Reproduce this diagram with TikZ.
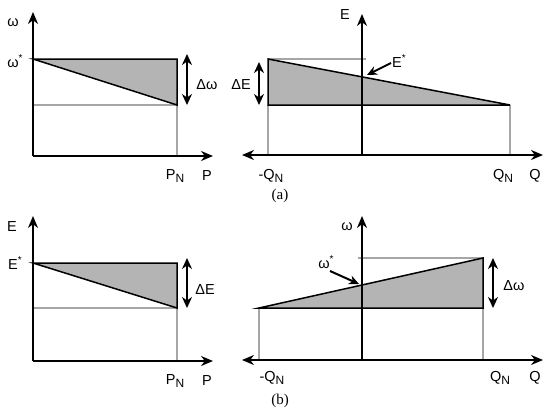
\documentclass[tikz,border=0pt]{standalone}
\usepackage{fontspec}
\setmainfont{Liberation Sans}
\newfontfamily\capfont{Liberation Serif}
\usetikzlibrary{arrows.meta}
\newcommand{\lowsub}[1]{\raisebox{-0.45ex}{\fontsize{12}{12}\selectfont #1}}
\newcommand{\stars}{\raisebox{0.85ex}{\fontsize{10}{10}\selectfont *}}
\tikzset{
  axis/.style={line width=2.2pt,-{Stealth[length=12pt,width=10pt]}},
  axisboth/.style={line width=2.2pt,{Stealth[length=12pt,width=10pt]}-{Stealth[length=12pt,width=10pt]}},
  delta/.style={line width=2pt,{Stealth[length=11pt,width=10pt]}-{Stealth[length=11pt,width=10pt]}},
  pointer/.style={line width=2pt,-{Stealth[length=10pt,width=9pt]}},
  edge/.style={line width=1.5pt,black},
  guide/.style={line width=1.7pt,guidegray},
  lab/.style={font=\fontsize{14.5}{15}\selectfont,inner sep=0pt},
  captionlab/.style={font=\capfont\fontsize{15}{16}\selectfont,inner sep=0pt}
}
\definecolor{shadegray}{HTML}{B4B4B4}
\definecolor{guidegray}{HTML}{A6A6A6}
\begin{document}
\begin{tikzpicture}[x=1pt,y=-1pt]
\useasboundingbox (0,0) rectangle (550,415);
% ---------- top left ----------
\coordinate (o1) at (33,156);
\coordinate (y1) at (33,12);
\coordinate (x1) at (213,156);
\coordinate (a1) at (33,59);
\coordinate (b1) at (177,59);
\coordinate (c1) at (177,105);
\coordinate (d1) at (33,105);
\coordinate (e1) at (177,156);
\fill[shadegray] (a1) -- (b1) -- (c1) -- cycle;
\draw[guide] (d1) -- (c1) -- (e1);
\draw[edge] (a1) -- (b1) -- (c1) -- cycle;
\draw[axis] (o1) -- (y1);
\draw[axis] (o1) -- (x1);
\coordinate (dt1) at (187,54);
\coordinate (db1) at (187,105);
\draw[delta] (dt1) -- (db1);
\node[lab] (lw1) at (13,23) {ω};
\node[lab] (lws1) at (15,61) {ω\stars};
\node[lab] (ldw1) at (207,85) {Δω};
\node[lab] (lpn1) at (175,176) {P\lowsub{N}};
\node[lab] (lp1) at (207,176) {P};
% ---------- top right ----------
\coordinate (o2) at (362,155);
\coordinate (y2) at (362,14);
\coordinate (xl2) at (242,155);
\coordinate (xr2) at (543,155);
\coordinate (a2) at (268,59);
\coordinate (b2) at (268,105);
\coordinate (c2) at (510,105);
\coordinate (g2) at (366,59);
\coordinate (f2) at (268,155);
\coordinate (h2) at (510,155);
\fill[shadegray] (a2) -- (b2) -- (c2) -- cycle;
\draw[guide] (a2) -- (g2);
\draw[guide] (b2) -- (f2);
\draw[guide] (c2) -- (h2);
\draw[edge] (a2) -- (b2) -- (c2) -- cycle;
\draw[axisboth] (xl2) -- (xr2);
\draw[axis] (o2) -- (y2);
\coordinate (dt2) at (259,62);
\coordinate (db2) at (259,105);
\draw[delta] (dt2) -- (db2);
\coordinate (ps2) at (391,63);
\coordinate (pe2) at (367,75);
\draw[pointer] (ps2) -- (pe2);
\node[lab] (le2) at (345,15) {E};
\node[lab] (les2) at (399,61) {E\stars};
\node[lab] (lde2) at (241,85) {ΔE};
\node[lab] (lqn2a) at (271,176) {-Q\lowsub{N}};
\node[lab] (lqn2b) at (503,176) {Q\lowsub{N}};
\node[lab] (lq2) at (535,176) {Q};
\node[captionlab] (capa) at (280,196) {(a)};
% ---------- bottom left ----------
\coordinate (o3) at (33,361);
\coordinate (y3) at (33,216);
\coordinate (x3) at (213,361);
\coordinate (a3) at (33,263);
\coordinate (b3) at (177,263);
\coordinate (c3) at (177,308);
\coordinate (d3) at (33,308);
\coordinate (e3) at (177,361);
\fill[shadegray] (a3) -- (b3) -- (c3) -- cycle;
\draw[guide] (d3) -- (c3) -- (e3);
\draw[edge] (a3) -- (b3) -- (c3) -- cycle;
\draw[axis] (o3) -- (y3);
\draw[axis] (o3) -- (x3);
\coordinate (dt3) at (187,258);
\coordinate (db3) at (187,308);
\draw[delta] (dt3) -- (db3);
\node[lab] (le3) at (12,227) {E};
\node[lab] (les3) at (15,263) {E\stars};
\node[lab] (lde3) at (205,290) {ΔE};
\node[lab] (lpn3) at (175,381) {P\lowsub{N}};
\node[lab] (lp3) at (207,381) {P};
% ---------- bottom right ----------
\coordinate (o4) at (362,360);
\coordinate (y4) at (362,216);
\coordinate (xl4) at (242,360);
\coordinate (xr4) at (543,360);
\coordinate (a4) at (259,308);
\coordinate (b4) at (483,258);
\coordinate (c4) at (483,308);
\coordinate (g4) at (358,258);
\coordinate (f4) at (259,360);
\coordinate (h4) at (483,360);
\fill[shadegray] (a4) -- (b4) -- (c4) -- cycle;
\draw[guide] (g4) -- (b4);
\draw[guide] (a4) -- (f4);
\draw[guide] (c4) -- (h4);
\draw[edge] (a4) -- (b4) -- (c4) -- cycle;
\draw[axisboth] (xl4) -- (xr4);
\draw[axis] (o4) -- (y4);
\coordinate (dt4) at (493,258);
\coordinate (db4) at (493,308);
\draw[delta] (dt4) -- (db4);
\coordinate (ps4) at (330,271);
\coordinate (pe4) at (359,284);
\draw[pointer] (ps4) -- (pe4);
\node[lab] (lw4) at (347,227) {ω};
\node[lab] (lws4) at (326,262) {ω\stars};
\node[lab] (ldw4) at (514,286) {Δω};
\node[lab] (lqn4a) at (272,378) {-Q\lowsub{N}};
\node[lab] (lqn4b) at (500,378) {Q\lowsub{N}};
\node[lab] (lq4) at (535,378) {Q};
\node[captionlab] (capb) at (280,401) {(b)};
\end{tikzpicture}
\end{document}
